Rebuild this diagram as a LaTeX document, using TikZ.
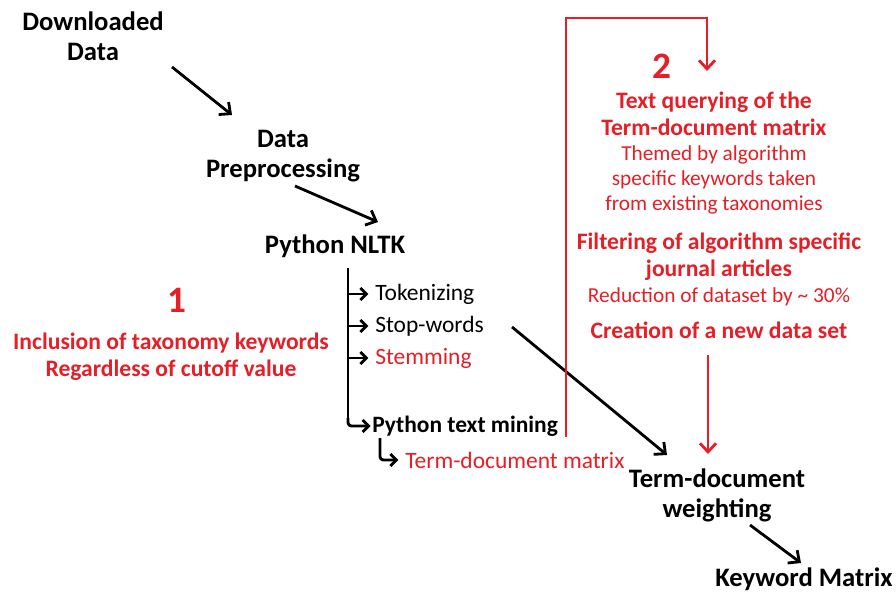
\documentclass[tikz,border=0pt]{standalone}
\usepackage{fontspec}
\setmainfont{Carlito}
\usetikzlibrary{arrows.meta}
\definecolor{flowred}{RGB}{230,30,38}
\tikzset{
  big/.style={font=\fontsize{20}{22.5}\selectfont\bfseries, align=center, inner sep=0pt},
  plain/.style={font=\fontsize{17.6}{20}\selectfont, inner sep=0pt, anchor=west},
  plainbold/.style={font=\fontsize{17.6}{20}\selectfont\bfseries, inner sep=0pt, anchor=west},
  redbold/.style={font=\fontsize{17.7}{20.5}\selectfont\bfseries, text=flowred, align=center, inner sep=0pt},
  redsmall/.style={font=\fontsize{16}{18.5}\selectfont, text=flowred, align=center, inner sep=0pt},
  numeral/.style={font=\fontsize{28}{30}\selectfont\bfseries, text=flowred, inner sep=0pt},
  flow/.style={line width=2.1pt, -{Straight Barb[length=6.5pt,width=12pt,line width=2.1pt]}},
  redflow/.style={flow, draw=flowred},
  branch/.style={line width=2.1pt, rounded corners=2.5pt, shorten >=5pt,
    -{Straight Barb[length=4.5pt,width=9pt,line width=2.1pt]}}
}
\begin{document}
\begin{tikzpicture}[x=0.75pt,y=-0.75pt]
\useasboundingbox (0,0) rectangle (896,592);

% main pipeline
\node[big] (dl) at (93,36) {Downloaded\\Data};
\node[big] (pre) at (283,156) {Data\\Preprocessing};
\node[big] (nltk) at (335,246) {Python NLTK};
\node[plain] (tok) at (375,294) {Tokenizing};
\node[plain] (stop) at (375,326) {Stop-words};
\node[plain, text=flowred] (stem) at (375,358) {Stemming};
\node[plainbold] (ptm) at (372,426) {Python text mining};
\node[plain, text=flowred] (tdm) at (405,460) {Term-document matrix};
\node[big] (tdw) at (717,495) {Term-document\\weighting};
\node[big] (km) at (804,579) {Keyword Matrix};

% note 1
\node[numeral] (n1) at (177,300) {1};
\node[redbold] (inc) at (171,357) {Inclusion of taxonomy keywords\\Regardless of cutoff value};

% note 2
\node[numeral] (n2) at (662,66) {2};
\node[redbold] (tq) at (714,114) {Text querying of the\\Term-document matrix};
\node[redsmall] (themed) at (714,180) {Themed by algorithm\\specific keywords taken\\from existing taxonomies};
\node[redbold] (filt) at (719,257) {Filtering of algorithm specific\\journal articles};
\node[redsmall] (red) at (719,297) {Reduction of dataset by \textasciitilde{} 30\%};
\node[redbold] (cre) at (719,330) {Creation of a new data set};

% coordinates for connector ends
\coordinate (dlA) at (172,67);
\coordinate (preA) at (232,115);
\coordinate (preB) at (295,186);
\coordinate (nltkA) at (378,222);
\coordinate (brTop) at (348,268);
\coordinate (brBot) at (348,426);
\coordinate (sub) at (380,438);
\coordinate (stopA) at (512,327);
\coordinate (tdwA) at (667,455);
\coordinate (tdwB) at (750,525);
\coordinate (kmA) at (801,563);
\coordinate (loopA) at (566,437);
\coordinate (loopB) at (566,18);
\coordinate (loopC) at (707,18);
\coordinate (loopD) at (707,71);
\coordinate (creA) at (708,355);
\coordinate (creB) at (708,454);

% black connectors
\draw[line width=2.1pt] (brTop) -- ([yshift=6]brBot);
\draw[branch] (brTop |- tok) -- (tok.west);
\draw[branch] (brTop |- stop) -- (stop.west);
\draw[branch] (brTop |- stem) -- (stem.west);
\draw[branch, shorten >=1pt] ([yshift=6]brBot) -- (brBot) -- (ptm.west);
\draw[branch] (sub) -- (sub |- tdm) -- (tdm.west);
\draw[flow] (dlA) -- (preA);
\draw[flow] (preB) -- (nltkA);
\draw[flow] (stopA) -- (tdwA);
\draw[flow] (tdwB) -- (kmA);

% red connectors
\draw[redflow] (loopA) -- (loopB) -- (loopC) -- (loopD);
\draw[redflow] (creA) -- (creB);
\end{tikzpicture}
\end{document}
